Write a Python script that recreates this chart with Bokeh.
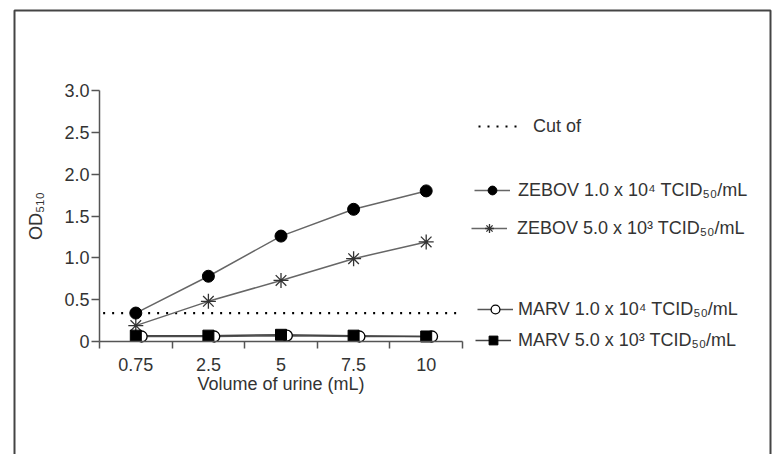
from bokeh.plotting import figure
from bokeh.models import Range1d, FixedTicker, Legend, LegendItem, NumeralTickFormatter
from bokeh.embed import file_html
from bokeh.resources import INLINE

# ---- data ----
volumes = ["0.75", "2.5", "5", "7.5", "10"]
zebov_1e4 = [0.34, 0.78, 1.26, 1.58, 1.80]
zebov_5e3 = [0.19, 0.48, 0.73, 0.99, 1.19]
marv_1e4 = [0.06, 0.06, 0.07, 0.06, 0.06]
marv_5e3 = [0.07, 0.07, 0.08, 0.07, 0.06]
cutoff = 0.34
y_ticks = [0, 0.5, 1.0, 1.5, 2.0, 2.5, 3.0]
y_max = 3.0

labels = {
    "cut": "Cut of",
    "z1": "ZEBOV 1.0 x 10\u2074 TCID\u2085\u2080/mL",
    "z2": "ZEBOV 5.0 x 10\u00b3 TCID\u2085\u2080/mL",
    "m1": "MARV 1.0 x 10\u2074 TCID\u2085\u2080/mL",
    "m2": "MARV 5.0 x 10\u00b3 TCID\u2085\u2080/mL",
}

FONT = "Liberation Sans"
FS = "18px"
TXT = "#333333"
AX = "#555555"
W, H = 774, 454

# layout of the plotting area inside the canvas (pixels)
AX_L, AX_R, AX_T, AX_B = 99, 462, 90, 341
n = len(volumes)
px_x = (AX_R - AX_L) / n
px_y = (AX_B - AX_T) / y_max

xc = [i + 0.5 for i in range(n)]          # category centres
x_off = [x + 0.08 for x in xc]            # open circles drawn slightly offset

p = figure(width=W, height=H, output_backend="svg", toolbar_location=None,
           x_range=Range1d(-AX_L / px_x, (W - AX_L) / px_x),
           y_range=Range1d(-(H - AX_B) / px_y, AX_B / px_y),
           min_border=0, min_border_left=0, min_border_right=0,
           min_border_top=0, min_border_bottom=0)
p.outline_line_color = None
p.grid.visible = False
p.background_fill_color = "white"
p.border_fill_color = "white"

# x axis: labels at centres, tick marks at category boundaries
xa = p.xaxis[0]
xa.fixed_location = 0
xa.bounds = (0, n)
xa.ticker = FixedTicker(ticks=xc, minor_ticks=list(range(n + 1)))
xa.major_label_overrides = {c: v for c, v in zip(xc, volumes)}
xa.major_tick_out = 0
xa.major_tick_in = 0
xa.minor_tick_out = 7
xa.minor_tick_in = 0
xa.minor_tick_line_color = AX
xa.minor_tick_line_width = 1.5
xa.major_label_standoff = 9
xa.axis_label = "Volume of urine (mL)"
xa.axis_label_standoff = 0

ya = p.yaxis[0]
ya.fixed_location = 0
ya.bounds = (0, y_max)
ya.ticker = FixedTicker(ticks=y_ticks, minor_ticks=[])
ya.formatter = NumeralTickFormatter(format="0.0")
ya.major_label_overrides = {0: "0"}
ya.major_tick_out = 8
ya.major_tick_in = 0
ya.major_tick_line_color = AX
ya.major_tick_line_width = 1.5
ya.major_label_standoff = 2
ya.axis_label = "OD\u2085\u2081\u2080"
ya.axis_label_standoff = 15

for ax in (xa, ya):
    ax.axis_line_color = AX
    ax.axis_line_width = 1.5
    ax.major_label_text_font = FONT
    ax.major_label_text_font_size = FS
    ax.major_label_text_color = TXT
    ax.axis_label_text_font = FONT
    ax.axis_label_text_font_size = FS
    ax.axis_label_text_font_style = "normal"
    ax.axis_label_text_color = TXT

# outer frame (open at the bottom)
bx0 = (14 - AX_L) / px_x
bx1 = (770 - AX_L) / px_x
by1 = (AX_B - 10) / px_y
by0 = (AX_B - H - 20) / px_y
p.line([bx0, bx0, bx1, bx1], [by0, by1, by1, by0], line_color="#444444", line_width=2)

# cut-off line
r_cut = p.line([0.05, n], [cutoff, cutoff], line_color="black", line_width=2.2,
               line_dash="2 7")

# series
r_z1l = p.line(xc, zebov_1e4, line_color="#666666", line_width=1.5)
r_z2l = p.line(xc, zebov_5e3, line_color="#666666", line_width=1.5)
r_m1l = p.line(x_off, marv_1e4, line_color="#555555", line_width=1.5)
r_m2l = p.line(xc, marv_5e3, line_color="#444444", line_width=1.5)

r_z2m = p.scatter(xc, zebov_5e3, marker="asterisk", size=15, line_color="#333333",
                  line_width=1.3)
r_z1m = p.scatter(xc, zebov_1e4, marker="circle", size=12, fill_color="black",
                  line_color="black")
r_m1m = p.scatter(x_off, marv_1e4, marker="circle", size=11, fill_color="white",
                  line_color="black", line_width=1.3)
r_m2m = p.scatter(xc, marv_5e3, marker="square", size=11, fill_color="black",
                  line_color="black")


def add_leg(label, renderers, x_left, y_centre, gw, standoff):
    leg = Legend(items=[LegendItem(label=label, renderers=renderers)],
                 location=(x_left, H - y_centre - 11),
                 glyph_width=gw, glyph_height=22, label_height=22,
                 label_standoff=standoff, padding=0, margin=0, spacing=0,
                 border_line_alpha=0, background_fill_alpha=0,
                 label_text_font=FONT, label_text_font_size=FS,
                 label_text_color=TXT)
    p.add_layout(leg)


add_leg(labels["cut"], [r_cut], 478, 126, 44, 11)
add_leg(labels["z1"], [r_z1l, r_z1m], 474, 190, 36, 8)
add_leg(labels["z2"], [r_z2l, r_z2m], 471, 228, 36, 10)
add_leg(labels["m1"], [r_m1l, r_m1m], 477, 309, 36, 5)
add_leg(labels["m2"], [r_m2l, r_m2m], 475, 340, 36, 7)

open("out.html", "w").write(file_html(p, INLINE))
